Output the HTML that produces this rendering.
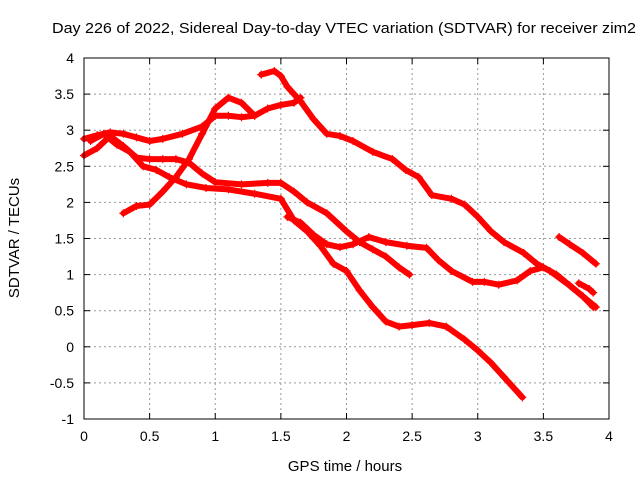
<!DOCTYPE html>
<html><head><meta charset="utf-8"><style>
body{margin:0;background:#fff}
svg{font-family:"Liberation Sans",sans-serif;font-size:14px}
</style></head><body>
<svg id="chart" width="640" height="480" xmlns="http://www.w3.org/2000/svg">
<rect width="640" height="480" fill="#fff"/>
<text x="52" y="33" textLength="584" lengthAdjust="spacingAndGlyphs" font-size="15">Day 226 of 2022, Sidereal Day-to-day VTEC variation (SDTVAR) for receiver zim2</text>
<text x="345" y="471" text-anchor="middle" font-size="15">GPS time / hours</text>
<text transform="translate(19,238) rotate(-90)" text-anchor="middle" font-size="15">SDTVAR / TECUs</text>
<g id="grid"></g><g id="series"></g><g id="axes"></g>
</svg>
<script>
const xTicks=[0,0.5,1,1.5,2,2.5,3,3.5,4];
const yTicks=[-1,-0.5,0,0.5,1,1.5,2,2.5,3,3.5,4];
const s1=[[1.35,3.77],[1.45,3.82],[1.5,3.75],[1.55,3.6],[1.65,3.4],[1.75,3.15],[1.85,2.95],[1.95,2.92],[2.05,2.85],[2.2,2.7],[2.35,2.6],[2.45,2.45],[2.55,2.35],[2.65,2.1],[2.8,2.05],[2.9,1.97],[3.0,1.8],[3.1,1.6],[3.2,1.45],[3.35,1.3],[3.45,1.15],[3.55,1.05],[3.7,0.85],[3.8,0.7],[3.9,0.55]];
const s2=[[0.3,1.85],[0.4,1.95],[0.5,1.97],[0.6,2.15],[0.7,2.35],[0.8,2.6],[0.9,2.95],[1.0,3.3],[1.1,3.45],[1.2,3.38],[1.3,3.2],[1.4,3.3],[1.5,3.35],[1.6,3.38],[1.65,3.45]];
const s3=[[0,2.88],[0.1,2.93],[0.2,2.97],[0.3,2.95],[0.4,2.9],[0.5,2.85],[0.6,2.88],[0.75,2.95],[0.9,3.05],[1.0,3.2],[1.1,3.2],[1.2,3.18],[1.3,3.2]];
const s4=[[0,2.65],[0.1,2.75],[0.2,2.92],[0.3,2.78],[0.4,2.62],[0.5,2.6],[0.6,2.6],[0.7,2.6],[0.8,2.55],[0.9,2.4],[1.0,2.28],[1.2,2.25],[1.4,2.27],[1.5,2.27],[1.6,2.15],[1.7,2.0],[1.85,1.85],[2.0,1.6],[2.1,1.45],[2.2,1.35],[2.3,1.25],[2.4,1.1],[2.48,1.0]];
const s5=[[0.05,2.85],[0.15,2.95],[0.25,2.8],[0.35,2.7],[0.45,2.5],[0.55,2.45],[0.65,2.35],[0.78,2.25],[0.93,2.2],[1.1,2.18],[1.3,2.12],[1.5,2.05],[1.6,1.75],[1.7,1.6],[1.8,1.4],[1.9,1.15],[2.0,1.05],[2.1,0.78],[2.2,0.55],[2.3,0.35],[2.4,0.28],[2.5,0.3],[2.63,0.33],[2.76,0.28],[2.9,0.1],[3.0,-0.05],[3.1,-0.22],[3.2,-0.42],[3.34,-0.7]];
const s6=[[1.55,1.8],[1.65,1.72],[1.75,1.55],[1.85,1.42],[1.95,1.38],[2.05,1.42],[2.17,1.52],[2.3,1.45],[2.46,1.4],[2.61,1.37],[2.7,1.2],[2.8,1.05],[2.96,0.9],[3.05,0.9],[3.16,0.86],[3.3,0.92],[3.4,1.05],[3.5,1.1],[3.6,1.0],[3.7,0.85],[3.8,0.7],[3.88,0.55]];
const s7=[[3.62,1.52],[3.7,1.42],[3.8,1.3],[3.9,1.15]];
const s8=[[3.77,0.88],[3.85,0.8],[3.88,0.75]];
const allSeries=[s1,s2,s3,s4,s5,s6,s7,s8];
const X0=84,X1=609,Y0=419,Y1=58;
const xs=v=>X0+(v-0)/(4-0)*(X1-X0);
const ys=v=>Y0-(v+1)/(4+1)*(Y0-Y1);
const NS="http://www.w3.org/2000/svg";
function mk(t,a,p){const e=document.createElementNS(NS,t);for(const k in a)e.setAttribute(k,a[k]);p.appendChild(e);return e;}
const grid=document.getElementById('grid'),axes=document.getElementById('axes'),ser=document.getElementById('series');
xTicks.forEach(t=>{const x=xs(t);
 if(t>0&&t<4){const g=mk('line',{x1:x,x2:x,y1:Y1,y2:Y0,stroke:'#999','stroke-dasharray':'2,3'},grid);
 
 }
 mk('line',{x1:x,x2:x,y1:Y0,y2:Y0-6,stroke:'#000'},axes);mk('line',{x1:x,x2:x,y1:Y1,y2:Y1+6,stroke:'#000'},axes);
 const l=mk('text',{x:x,y:Y0+22,'text-anchor':'middle'},axes);l.textContent=String(t);
 
 });
yTicks.forEach(t=>{const y=ys(t);
 if(t>-1&&t<4){const g=mk('line',{x1:X0,x2:X1,y1:y,y2:y,stroke:'#999','stroke-dasharray':'2,3'},grid);
 
 }
 mk('line',{x1:X0,x2:X0+6,y1:y,y2:y,stroke:'#000'},axes);mk('line',{x1:X1,x2:X1-6,y1:y,y2:y,stroke:'#000'},axes);
 const l=mk('text',{x:X0-10,y:y+5,'text-anchor':'end'},axes);l.textContent=String(t);
 
 });
const fr=mk('rect',{x:X0,y:Y1,width:X1-X0,height:Y0-Y1,fill:'none',stroke:'#000'},axes);


allSeries.forEach((s,i)=>{
 const g=mk('g',{},ser);
 
 
 mk('polyline',{points:s.map(p=>xs(p[0])+','+ys(p[1])).join(' '),fill:'none',stroke:'#f00','stroke-width':6,'stroke-linejoin':'round','stroke-linecap':'round'},g);
 s.forEach(p=>{const x=xs(p[0]),y=ys(p[1]);
  const m=mk('path',{d:`M${x-4},${y}H${x+4}M${x},${y-4}V${y+4}`,stroke:'#f00','stroke-width':1.2},g);
  
  });
});
</script>
</body></html>
